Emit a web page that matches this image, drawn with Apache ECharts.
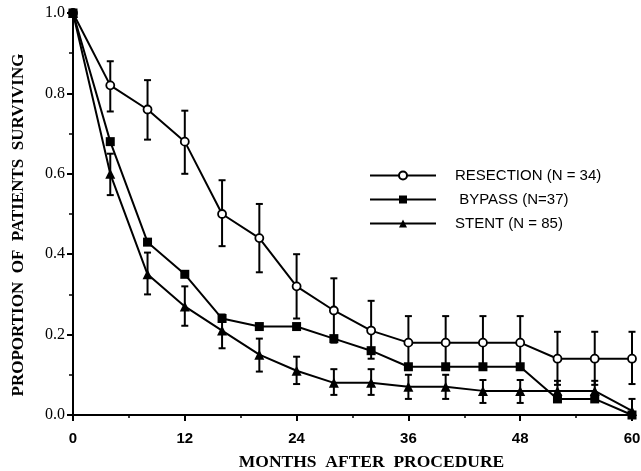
<!DOCTYPE html>
<html><head><meta charset="utf-8">
<script src="https://cdn.jsdelivr.net/npm/echarts@6/dist/echarts.min.js"></script>
<style>html,body{margin:0;padding:0;background:#fff}#c{width:641px;height:471px}</style>
</head><body><div id="c"></div>
<script>
var months = [0,4,8,12,16,20,24,28,32,36,40,44,48,52,56,60];
var xTicks = [0,12,24,36,48,60];
var yTicks = [0.0,0.2,0.4,0.6,0.8,1.0];
var seriesNames = ['RESECTION (N = 34)', ' BYPASS (N=37)', 'STENT (N = 85)'];
var resection = [1.0,0.82,0.76,0.68,0.50,0.44,0.32,0.26,0.21,0.18,0.18,0.18,0.18,0.14,0.14,0.14];
var resectionLow = [null,0.755,0.685,0.60,0.42,0.355,0.24,0.18,0.14,0.12,0.12,0.12,0.12,0.075,0.075,0.077];
var resectionHigh = [null,0.88,0.833,0.757,0.584,0.525,0.40,0.34,0.284,0.246,0.246,0.246,0.246,0.207,0.207,0.207];
var bypass = [1.0,0.68,0.43,0.35,0.24,0.22,0.22,0.19,0.16,0.12,0.12,0.12,0.12,0.04,0.04,0.0];
var stent = [1.0,0.60,0.35,0.27,0.21,0.15,0.11,0.08,0.08,0.07,0.07,0.06,0.06,0.06,0.06,0.01];
var stentLow = [null,0.547,0.30,0.222,0.166,0.108,0.077,0.05,0.05,0.04,0.04,0.03,0.03,0.04,0.04,0.0];
var stentHigh = [null,0.65,0.404,0.32,0.25,0.19,0.145,0.114,0.114,0.10,0.10,0.087,0.087,0.085,0.085,0.04];

function pairs(v){ return months.map(function(m,i){ return [m, v[i]]; }); }
function errData(lo, hi){
  var out = [];
  months.forEach(function(m,i){ if (lo[i] !== null) out.push([m, lo[i], hi[i]]); });
  return out;
}
function errSeries(lo, hi){
  return {
    type: 'custom', silent: true, z: 1,
    data: errData(lo, hi),
    encode: { x: 0, y: [1,2] },
    renderItem: function(params, api){
      var x = api.value(0);
      var p1 = api.coord([x, api.value(1)]);
      var p2 = api.coord([x, api.value(2)]);
      var w = 3.5;
      var st = { stroke: '#000', lineWidth: 2 };
      return { type: 'group', children: [
        { type: 'line', shape: { x1: p1[0], y1: p1[1], x2: p2[0], y2: p2[1] }, style: st },
        { type: 'line', shape: { x1: p1[0]-w, y1: p1[1], x2: p1[0]+w, y2: p1[1] }, style: st },
        { type: 'line', shape: { x1: p2[0]-w, y1: p2[1], x2: p2[0]+w, y2: p2[1] }, style: st }
      ]};
    }
  };
}
var chart = echarts.init(document.getElementById('c'), null, { renderer: 'canvas' });
var serif = '"Liberation Serif", "DejaVu Serif", serif';
var sans = '"Liberation Sans", Arial, sans-serif';
chart.setOption({
  animation: false,
  backgroundColor: '#fff',
  grid: { left: 73, right: 9, top: 13, bottom: 56, containLabel: false, outerBoundsMode: 'none' },
  legend: {
    left: 364, top: 163, orient: 'vertical',
    itemWidth: 66, itemHeight: 10, itemGap: 9,
    textStyle: { fontFamily: sans, fontSize: 15, color: '#000', padding: [0,0,0,14] },
    data: seriesNames
  },
  xAxis: {
    type: 'value', min: 0, max: 60, interval: 12,
    name: 'MONTHS  AFTER  PROCEDURE', nameLocation: 'middle', nameGap: 38,
    nameTextStyle: { fontFamily: serif, fontWeight: 'bold', fontSize: 17.5, color: '#000', padding: [0,0,0,38] },
    axisLine: { lineStyle: { color: '#000', width: 2 } },
    axisTick: { show: true, length: 6, lineStyle: { color: '#000', width: 2 } },
    minorTick: { show: true, splitNumber: 2, length: 3, lineStyle: { color: '#000', width: 1.5 } },
    splitLine: { show: false },
    axisLabel: { fontFamily: sans, fontWeight: 'bold', fontSize: 15, color: '#000', margin: 16,
      formatter: function(v){ return xTicks.indexOf(v) >= 0 ? String(v) : ''; } }
  },
  yAxis: {
    type: 'value', min: 0, max: 1, interval: 0.2,
    name: 'PROPORTION  OF  PATIENTS  SURVIVING', nameLocation: 'middle', nameGap: 46,
    nameTextStyle: { fontFamily: serif, fontWeight: 'bold', fontSize: 17, color: '#000', padding: [0,22,0,0] },
    axisLine: { show: true, lineStyle: { color: '#000', width: 2 } },
    axisTick: { show: true, length: 6, lineStyle: { color: '#000', width: 2 } },
    minorTick: { show: true, splitNumber: 2, length: 4, lineStyle: { color: '#000', width: 1.5 } },
    splitLine: { show: false },
    axisLabel: { fontFamily: serif, fontSize: 16, color: '#000', margin: 8,
      formatter: function(v){ return v.toFixed(1); } }
  },
  series: [
    errSeries(resectionLow, resectionHigh),
    errSeries(stentLow, stentHigh),
    { name: seriesNames[0], type: 'line', data: pairs(resection), z: 3,
      symbol: 'circle', symbolSize: 8,
      lineStyle: { color: '#000', width: 2 },
      itemStyle: { color: '#fff', borderColor: '#000', borderWidth: 1.8 } },
    { name: seriesNames[1], type: 'line', data: pairs(bypass), z: 3,
      symbol: 'rect', symbolSize: 9,
      lineStyle: { color: '#000', width: 2 },
      itemStyle: { color: '#000', borderColor: '#000', borderWidth: 0 } },
    { name: seriesNames[2], type: 'line', data: pairs(stent), z: 3,
      symbol: 'triangle', symbolSize: 10,
      lineStyle: { color: '#000', width: 2 },
      itemStyle: { color: '#000', borderColor: '#000', borderWidth: 0 } }
  ]
});
</script></body></html>
